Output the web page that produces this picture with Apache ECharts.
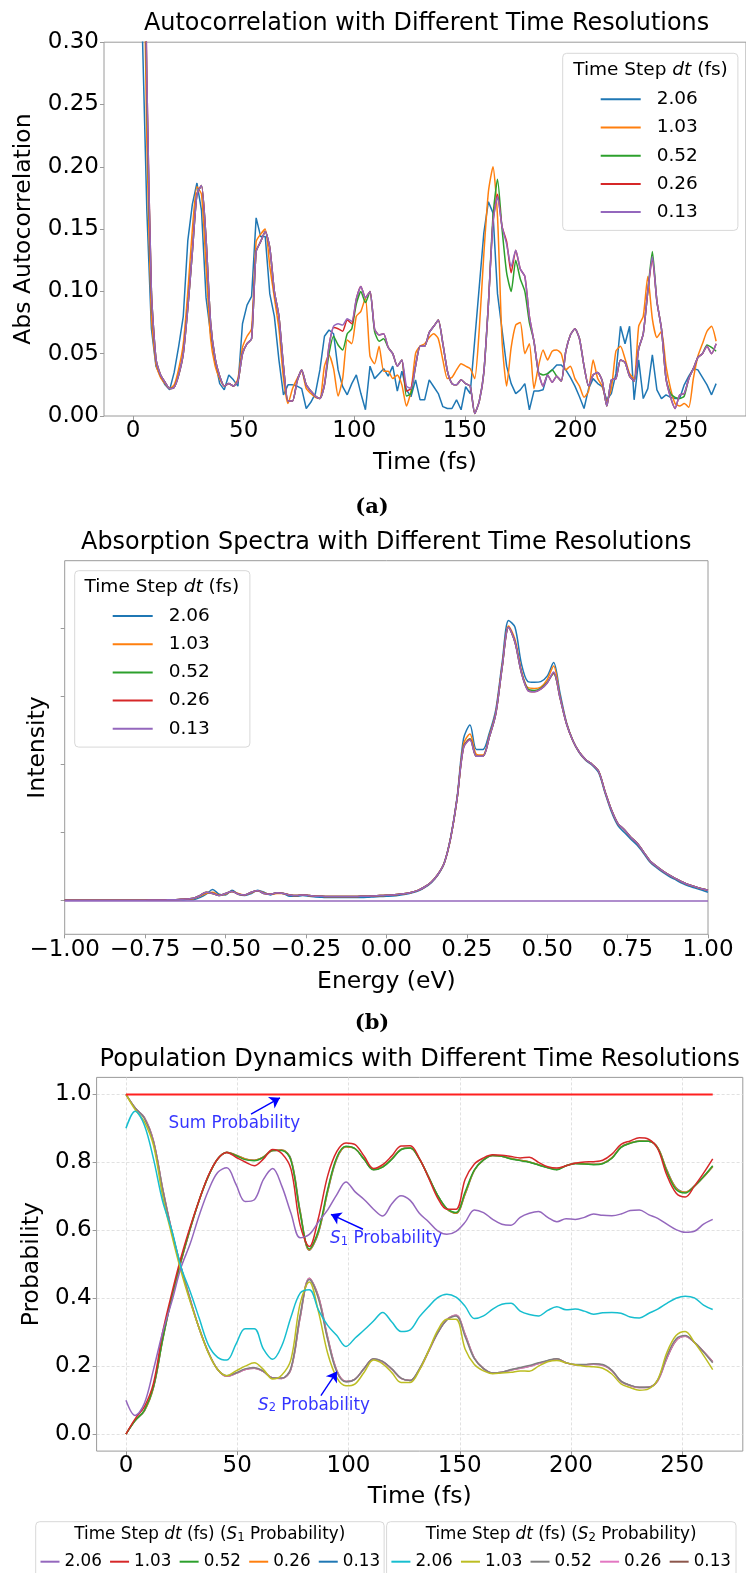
<!DOCTYPE html>
<html><head><meta charset="utf-8">
<script src="https://cdn.jsdelivr.net/npm/echarts@6.0.0/dist/echarts.min.js"></script>
<style>html,body{margin:0;padding:0;background:#fff}#c{width:746px;height:1573px}</style>
</head><body><div id="c"></div>
<script>
// ---------- Panel (a): autocorrelation, sampled every 2.06 fs ----------
const stepA = 2.06;
const blueA = [1.0,0.68,0.31,0.165,0.07,0.04,0.032,0.025,0.021,0.035,
0.056,0.08,0.141,0.17,0.187,0.165,0.095,0.066,0.044,0.026,
0.021,0.033,0.029,0.024,0.074,0.089,0.096,0.159,0.144,0.144,
0.098,0.08,0.045,0.017,0.025,0.025,0.024,0.022,0.006,0.011,
0.018,0.037,0.064,0.069,0.066,0.037,0.0235,0.017,0.026,0.033,
0.018,0.005,0.04,0.03,0.034,0.038,0.032,0.04,0.02,0.036,
0.021,0.0155,0.029,0.013,0.013,0.029,0.0235,0.018,0.0075,0.006,
0.006,0.013,0.005,0.0235,0.018,0.061,0.104,0.147,0.172,0.163,
0.098,0.069,0.04,0.026,0.018,0.021,0.026,0.005,0.02,0.02,
0.021,0.034,0.037,0.041,0.041,0.037,0.031,0.024,0.0155,0.006,
0.022,0.03,0.026,0.0235,0.013,0.018,0.034,0.072,0.058,0.072,
0.013,0.045,0.014,0.022,0.049,0.021,0.014,0.017,0.015,0.014,
0.014,0.025,0.032,0.038,0.037,0.031,0.025,0.017,0.026];
const orangeA = [1.0,0.8,0.47,0.22,0.08,0.042,0.031,0.026,0.022,0.025,
0.038,0.058,0.1,0.15,0.184,0.178,0.12,0.062,0.04,0.03,
0.024,0.026,0.024,0.03,0.055,0.064,0.07,0.14,0.146,0.15,
0.12,0.095,0.07,0.03,0.01,0.022,0.03,0.036,0.022,0.018,
0.015,0.014,0.04,0.049,0.038,0.016,0.03,0.061,0.058,0.08,
0.084,0.095,0.048,0.042,0.056,0.036,0.036,0.03,0.033,0.025,
0.008,0.02,0.05,0.056,0.058,0.063,0.066,0.062,0.045,0.03,
0.031,0.037,0.042,0.04,0.038,0.03,0.07,0.13,0.18,0.2,
0.16,0.06,0.024,0.055,0.073,0.075,0.05,0.058,0.022,0.04,
0.053,0.045,0.052,0.053,0.05,0.037,0.04,0.03,0.024,0.015,
0.02,0.045,0.03,0.024,0.012,0.022,0.052,0.056,0.046,0.034,
0.03,0.072,0.08,0.112,0.078,0.063,0.068,0.04,0.022,0.01,
0.008,0.01,0.007,0.03,0.048,0.058,0.068,0.072,0.06];
const greenA = [1.0,0.85,0.55,0.26,0.1,0.046,0.033,0.027,0.022,0.023,
0.033,0.05,0.087,0.132,0.178,0.185,0.142,0.075,0.046,0.032,
0.024,0.026,0.024,0.028,0.05,0.058,0.062,0.132,0.14,0.148,
0.135,0.1,0.08,0.04,0.012,0.012,0.028,0.037,0.025,0.02,
0.016,0.014,0.025,0.05,0.064,0.057,0.053,0.066,0.07,0.09,
0.1,0.091,0.1,0.068,0.06,0.062,0.055,0.05,0.04,0.045,
0.016,0.018,0.04,0.056,0.056,0.067,0.072,0.077,0.058,0.036,
0.026,0.025,0.029,0.026,0.024,0.002,0.012,0.035,0.09,0.16,
0.19,0.15,0.115,0.1,0.125,0.11,0.1,0.075,0.06,0.035,
0.033,0.034,0.037,0.032,0.028,0.052,0.065,0.07,0.062,0.04,
0.024,0.033,0.035,0.028,0.008,0.029,0.03,0.045,0.043,0.032,
0.028,0.054,0.066,0.1,0.132,0.092,0.07,0.03,0.018,0.015,
0.014,0.016,0.03,0.038,0.047,0.05,0.057,0.055,0.052];
const redA = [1.0,0.85,0.55,0.27,0.1,0.046,0.033,0.027,0.022,0.023,
0.033,0.05,0.087,0.132,0.178,0.185,0.142,0.075,0.046,0.032,
0.024,0.026,0.024,0.028,0.05,0.058,0.062,0.132,0.14,0.148,
0.135,0.1,0.08,0.04,0.012,0.012,0.028,0.037,0.025,0.02,
0.016,0.014,0.025,0.056,0.071,0.07,0.068,0.077,0.074,0.094,
0.104,0.095,0.1,0.07,0.065,0.066,0.055,0.05,0.04,0.045,
0.02,0.022,0.04,0.056,0.056,0.067,0.072,0.077,0.058,0.036,
0.026,0.025,0.029,0.026,0.024,0.002,0.012,0.035,0.09,0.155,
0.178,0.152,0.14,0.115,0.133,0.118,0.112,0.08,0.06,0.035,
0.024,0.033,0.027,0.032,0.028,0.052,0.065,0.07,0.062,0.04,
0.024,0.033,0.035,0.028,0.008,0.029,0.03,0.045,0.043,0.032,
0.028,0.054,0.066,0.1,0.126,0.092,0.07,0.03,0.015,0.006,
0.017,0.018,0.03,0.038,0.047,0.05,0.056,0.05,0.058];
const purpleA = [1.0,0.85,0.55,0.27,0.1,0.046,0.033,0.027,0.022,0.023,
0.033,0.05,0.087,0.132,0.178,0.185,0.142,0.075,0.046,0.032,
0.024,0.026,0.024,0.028,0.05,0.058,0.062,0.132,0.14,0.148,
0.135,0.1,0.08,0.04,0.012,0.012,0.028,0.037,0.025,0.02,
0.016,0.014,0.025,0.056,0.072,0.074,0.073,0.078,0.076,0.094,
0.104,0.095,0.1,0.07,0.065,0.066,0.055,0.05,0.04,0.045,
0.024,0.022,0.04,0.056,0.056,0.067,0.072,0.077,0.058,0.036,
0.026,0.025,0.029,0.026,0.024,0.002,0.012,0.035,0.09,0.155,
0.176,0.152,0.138,0.12,0.133,0.118,0.112,0.08,0.06,0.035,
0.024,0.033,0.027,0.032,0.028,0.052,0.065,0.07,0.062,0.04,
0.024,0.033,0.035,0.028,0.008,0.029,0.03,0.045,0.043,0.032,
0.028,0.054,0.066,0.1,0.128,0.092,0.07,0.03,0.015,0.006,
0.017,0.018,0.03,0.038,0.047,0.05,0.056,0.05,0.058];

// ---------- Panel (b): absorption spectra, energy step 0.02 eV from -1 ----------
const stepB = 0.02;
const blueB = [0,0,0,0,0,0,0,0,0,0,
0,0,0,0,0,0,0,0.003,0.005,0.008,
0.01,0.04,0.09,0.16,0.09,0.08,0.15,0.09,0.07,0.10,
0.15,0.12,0.08,0.11,0.10,0.06,0.06,0.07,0.06,0.05,
0.045,0.04,0.04,0.04,0.04,0.04,0.042,0.045,0.05,0.055,
0.06,0.065,0.075,0.09,0.11,0.14,0.19,0.26,0.37,0.55,
0.93,1.52,2.38,2.58,2.22,2.22,2.46,2.80,3.50,4.12,
4.02,3.48,3.22,3.21,3.22,3.30,3.50,3.05,2.62,2.35,
2.17,2.06,1.99,1.88,1.58,1.30,1.10,1.00,0.90,0.81,
0.69,0.56,0.48,0.41,0.35,0.30,0.25,0.21,0.18,0.15,
0.12];
const orangeB = [0,0,0,0,0,0,0,0,0,0,
0,0,0,0.004,0.005,0.005,0.008,0.01,0.014,0.02,
0.025,0.06,0.10,0.12,0.08,0.09,0.13,0.10,0.08,0.11,
0.14,0.11,0.09,0.10,0.10,0.08,0.07,0.08,0.07,0.06,
0.06,0.055,0.055,0.055,0.055,0.055,0.06,0.06,0.065,0.07,
0.075,0.08,0.09,0.10,0.12,0.15,0.20,0.27,0.38,0.55,
0.92,1.50,2.30,2.45,2.15,2.14,2.42,2.76,3.45,4.04,
3.84,3.38,3.13,3.12,3.14,3.25,3.45,3.00,2.61,2.35,
2.18,2.07,2.00,1.90,1.60,1.33,1.13,1.04,0.93,0.84,
0.71,0.58,0.50,0.43,0.37,0.32,0.27,0.23,0.20,0.17,
0.15];
const greenB = [0,0,0,0,0,0,0,0,0,0,
0,0,0,0.005,0.005,0.005,0.008,0.01,0.015,0.02,
0.03,0.07,0.12,0.10,0.07,0.10,0.13,0.09,0.08,0.12,
0.14,0.10,0.09,0.11,0.10,0.08,0.07,0.08,0.07,0.06,
0.06,0.055,0.055,0.055,0.055,0.055,0.06,0.06,0.065,0.07,
0.075,0.08,0.09,0.10,0.12,0.15,0.20,0.27,0.38,0.55,
0.92,1.50,2.26,2.38,2.12,2.12,2.40,2.74,3.43,4.02,
3.80,3.35,3.11,3.09,3.12,3.21,3.34,2.98,2.60,2.35,
2.18,2.07,2.00,1.90,1.60,1.33,1.13,1.04,0.93,0.84,
0.71,0.58,0.50,0.43,0.37,0.32,0.27,0.23,0.20,0.17,
0.15];
const redB = [0,0,0,0,0,0,0,0,0,0,
0,0,0,0.005,0.005,0.005,0.008,0.01,0.015,0.02,
0.03,0.07,0.12,0.10,0.07,0.10,0.13,0.09,0.08,0.12,
0.14,0.10,0.09,0.11,0.10,0.08,0.07,0.08,0.07,0.06,
0.06,0.055,0.055,0.055,0.055,0.055,0.06,0.06,0.065,0.07,
0.075,0.08,0.09,0.10,0.12,0.15,0.20,0.27,0.38,0.55,
0.92,1.50,2.25,2.37,2.12,2.12,2.40,2.74,3.43,4.02,
3.80,3.35,3.09,3.07,3.11,3.20,3.35,2.98,2.60,2.35,
2.18,2.07,2.00,1.90,1.60,1.33,1.13,1.04,0.93,0.84,
0.71,0.58,0.50,0.43,0.37,0.32,0.27,0.23,0.20,0.17,
0.15];
const purpleB = [0,0,0,0,0,0,0,0,0,0,
0,0,0,0.005,0.005,0.005,0.008,0.01,0.015,0.02,
0.03,0.07,0.12,0.10,0.07,0.10,0.13,0.09,0.08,0.12,
0.14,0.10,0.09,0.11,0.10,0.08,0.07,0.08,0.07,0.06,
0.06,0.055,0.055,0.055,0.055,0.055,0.06,0.06,0.065,0.07,
0.075,0.08,0.09,0.10,0.12,0.15,0.20,0.27,0.38,0.55,
0.92,1.50,2.25,2.36,2.12,2.12,2.40,2.74,3.43,4.02,
3.80,3.35,3.09,3.07,3.11,3.20,3.36,2.98,2.60,2.35,
2.18,2.07,2.00,1.90,1.60,1.33,1.13,1.04,0.93,0.84,
0.71,0.58,0.50,0.43,0.37,0.32,0.27,0.23,0.20,0.17,
0.15];
const intensityTicks = [0, 1, 2, 3, 4];

// ---------- Panel (c): population dynamics, sampled every 4.12 fs ----------
const stepC = 4.12;
const s1_206 = [0.10,0.055,0.09,0.19,0.30,0.39,0.49,0.56,0.645,0.718,
0.77,0.784,0.735,0.685,0.69,0.75,0.782,0.73,0.65,0.578,
0.588,0.625,0.66,0.705,0.742,0.713,0.69,0.662,0.642,0.678,
0.702,0.688,0.65,0.625,0.598,0.588,0.597,0.624,0.66,0.652,
0.632,0.618,0.615,0.638,0.65,0.655,0.638,0.625,0.634,0.632,
0.638,0.648,0.644,0.643,0.648,0.658,0.66,0.646,0.635,0.618,
0.602,0.594,0.597,0.618,0.632];
const s1_103 = [0.0,0.045,0.08,0.15,0.30,0.415,0.52,0.61,0.69,0.762,
0.81,0.829,0.815,0.801,0.79,0.81,0.838,0.826,0.78,0.615,
0.552,0.637,0.76,0.832,0.857,0.852,0.817,0.782,0.793,0.819,
0.848,0.849,0.812,0.755,0.695,0.662,0.662,0.75,0.795,0.813,
0.822,0.821,0.817,0.813,0.815,0.8,0.787,0.783,0.79,0.797,
0.801,0.802,0.806,0.824,0.853,0.863,0.872,0.868,0.84,0.762,
0.71,0.698,0.73,0.768,0.81];
const s1_052 = [0.0,0.04,0.07,0.14,0.28,0.405,0.51,0.605,0.69,0.76,
0.81,0.829,0.82,0.808,0.805,0.815,0.835,0.835,0.805,0.65,
0.545,0.6,0.72,0.815,0.847,0.84,0.808,0.778,0.786,0.809,
0.837,0.842,0.81,0.757,0.703,0.664,0.652,0.713,0.778,0.807,
0.82,0.818,0.81,0.805,0.8,0.792,0.784,0.778,0.79,0.796,
0.795,0.793,0.796,0.812,0.844,0.856,0.862,0.862,0.842,0.772,
0.72,0.71,0.73,0.758,0.79];
const s1_026 = [0.0,0.04,0.068,0.138,0.278,0.403,0.508,0.604,0.69,0.76,
0.81,0.83,0.821,0.81,0.806,0.816,0.835,0.836,0.808,0.655,
0.542,0.595,0.715,0.812,0.846,0.84,0.808,0.779,0.787,0.81,
0.838,0.842,0.81,0.757,0.702,0.663,0.65,0.708,0.776,0.807,
0.82,0.818,0.811,0.806,0.801,0.793,0.785,0.779,0.79,0.797,
0.796,0.794,0.797,0.813,0.845,0.857,0.863,0.862,0.843,0.776,
0.724,0.712,0.73,0.757,0.788];
const s1_013 = [0.0,0.04,0.068,0.137,0.277,0.402,0.508,0.603,0.689,0.76,
0.81,0.83,0.821,0.81,0.806,0.816,0.835,0.836,0.809,0.657,
0.541,0.593,0.713,0.811,0.846,0.84,0.808,0.779,0.787,0.81,
0.838,0.842,0.81,0.757,0.702,0.663,0.65,0.707,0.776,0.807,
0.82,0.818,0.811,0.806,0.801,0.793,0.785,0.779,0.79,0.797,
0.796,0.794,0.797,0.813,0.845,0.857,0.863,0.862,0.843,0.777,
0.725,0.712,0.73,0.757,0.788];
const s2_206 = [0.90,0.95,0.91,0.81,0.685,0.60,0.492,0.42,0.34,0.262,
0.226,0.218,0.265,0.31,0.31,0.25,0.22,0.26,0.345,0.415,
0.425,0.365,0.32,0.29,0.258,0.283,0.307,0.333,0.358,0.33,
0.302,0.307,0.345,0.375,0.402,0.412,0.403,0.376,0.34,0.348,
0.368,0.382,0.385,0.362,0.352,0.348,0.364,0.375,0.366,0.368,
0.362,0.353,0.357,0.358,0.356,0.345,0.342,0.355,0.368,0.385,
0.40,0.406,0.401,0.38,0.367];
const s2_103 = [1.0,0.955,0.92,0.85,0.70,0.585,0.48,0.39,0.31,0.238,
0.19,0.172,0.186,0.2,0.21,0.19,0.162,0.174,0.22,0.385,
0.448,0.36,0.238,0.166,0.142,0.148,0.183,0.218,0.207,0.181,
0.152,0.152,0.188,0.245,0.305,0.338,0.338,0.25,0.205,0.186,
0.178,0.18,0.182,0.186,0.185,0.2,0.213,0.217,0.21,0.204,
0.2,0.198,0.194,0.177,0.148,0.137,0.129,0.133,0.16,0.24,
0.29,0.302,0.27,0.232,0.19];
const s2_052 = [1.0,0.96,0.93,0.86,0.72,0.595,0.49,0.395,0.31,0.24,
0.19,0.172,0.18,0.192,0.195,0.185,0.165,0.165,0.195,0.35,
0.455,0.398,0.278,0.183,0.154,0.162,0.194,0.222,0.214,0.192,
0.165,0.158,0.192,0.245,0.298,0.336,0.348,0.287,0.222,0.193,
0.18,0.182,0.19,0.196,0.202,0.21,0.217,0.222,0.21,0.205,
0.205,0.207,0.205,0.188,0.156,0.144,0.138,0.138,0.16,0.23,
0.28,0.29,0.27,0.242,0.21];
const s2_026 = [1.0,0.96,0.932,0.862,0.722,0.597,0.492,0.396,0.31,0.24,
0.19,0.17,0.179,0.19,0.194,0.184,0.165,0.164,0.192,0.345,
0.458,0.403,0.283,0.186,0.155,0.162,0.194,0.221,0.213,0.191,
0.164,0.158,0.19,0.243,0.298,0.337,0.35,0.292,0.224,0.193,
0.18,0.182,0.189,0.194,0.2,0.208,0.215,0.221,0.21,0.204,
0.204,0.206,0.203,0.187,0.155,0.143,0.137,0.138,0.157,0.224,
0.276,0.288,0.27,0.243,0.212];
const s2_013 = [1.0,0.96,0.932,0.863,0.723,0.598,0.492,0.397,0.31,0.24,
0.19,0.17,0.179,0.19,0.194,0.184,0.165,0.164,0.191,0.343,
0.459,0.405,0.285,0.187,0.155,0.162,0.194,0.221,0.213,0.191,
0.164,0.158,0.19,0.243,0.298,0.337,0.35,0.293,0.224,0.193,
0.18,0.182,0.189,0.194,0.2,0.208,0.215,0.221,0.21,0.204,
0.204,0.206,0.203,0.187,0.155,0.143,0.137,0.138,0.157,0.223,
0.275,0.288,0.27,0.243,0.213];
const sumT = [0, 263.68];
const sumP = [1.0, 1.0];
const noteText = ['Sum Probability', '{i|S}{s|1} Probability', '{i|S}{s|2} Probability'];
const notePos = [[18.9, 0.915], [91.5, 0.574], [59.1, 0.083]];
const arrowFrom = [[56.2, 0.942], [106.5, 0.603], [87.6, 0.113]];
const arrowTo = [[69.2, 0.99], [92.1, 0.647], [94.8, 0.184]];

const dtLabels = ['2.06', '1.03', '0.52', '0.26', '0.13'];
const timeTicks = [0, 50, 100, 150, 200, 250];
const probTicks = [0, 0.2, 0.4, 0.6, 0.8, 1.0];

// ---------- build ----------
const FONT = 'DejaVu Sans';
const C = {blue:'#1f77b4', orange:'#ff7f0e', green:'#2ca02c', red:'#d62728', purple:'#9467bd',
  brown:'#8c564b', pink:'#e377c2', gray:'#7f7f7f', olive:'#bcbd22', cyan:'#17becf'};
const SPINE = '#9a9a9a';
const timeA = blueA.map((_, i) => +(i * stepA).toFixed(2));
const energyB = purpleB.map((_, i) => +(-1 + i * stepB).toFixed(2));
const timeC = s1_206.map((_, i) => +(i * stepC).toFixed(2));
const pairs = (xs, ys) => ys.map((v, i) => [xs[i], v]);

function line(name, ax, xs, ys, color, smooth, width) {
  return {type:'line', name, xAxisIndex:ax, yAxisIndex:ax, data:pairs(xs, ys),
    symbol:'none', showSymbol:false, smooth:smooth, clip:true,
    lineStyle:{color, width:width || 1.5}, itemStyle:{color}, emphasis:{disabled:true}};
}
const series = [];
series.push(line('A|2.06', 0, timeA, blueA, C.blue, false));
series.push(line('A|1.03', 0, timeA, orangeA, C.orange, 0.2));
series.push(line('A|0.52', 0, timeA, greenA, C.green, 0.2));
series.push(line('A|0.26', 0, timeA, redA, C.red, 0.2));
series.push(line('A|0.13', 0, timeA, purpleA, C.purple, 0.2));

series.push(line('B|2.06', 1, energyB, blueB, C.blue, 0.3));
series.push(line('B|1.03', 1, energyB, orangeB, C.orange, 0.3));
series.push(line('B|0.52', 1, energyB, greenB, C.green, 0.3));
series.push(line('B|0.26', 1, energyB, redB, C.red, 0.3));
const pb = line('B|0.13', 1, energyB, purpleB, C.purple, 0.3);
pb.markLine = {silent:true, symbol:['none','none'], label:{show:false},
  lineStyle:{color:C.purple, width:1.5, type:'solid'}, data:[{yAxis:0}]};
series.push(pb);

series.push(line('S1|0.13', 2, timeC, s1_013, C.blue, 0.35));
series.push(line('S2|0.13', 2, timeC, s2_013, C.brown, 0.35));
series.push(line('S1|0.26', 2, timeC, s1_026, C.orange, 0.35));
series.push(line('S2|0.26', 2, timeC, s2_026, C.pink, 0.35));
series.push(line('S1|0.52', 2, timeC, s1_052, C.green, 0.35));
series.push(line('S2|0.52', 2, timeC, s2_052, C.gray, 0.35));
series.push(line('S1|1.03', 2, timeC, s1_103, C.red, 0.35));
series.push(line('S2|1.03', 2, timeC, s2_103, C.olive, 0.35));
series.push(line('S1|2.06', 2, timeC, s1_206, C.purple, 0.35));
series.push(line('S2|2.06', 2, timeC, s2_206, C.cyan, 0.35));
series.push(line('Sum', 2, sumT, sumP, '#ff2020', false, 2));
series.push({type:'scatter', name:'Notes', xAxisIndex:2, yAxisIndex:2, data:notePos,
  symbolSize:1, itemStyle:{color:'rgba(0,0,0,0)'}, silent:true,
  label:{show:true, position:'right', distance:0, color:'#0000ff', fontSize:16.8, fontFamily:FONT,
    formatter:p => noteText[p.dataIndex],
    rich:{i:{fontStyle:'italic', fontSize:16.8, color:'#0000ff', fontFamily:FONT},
          s:{fontSize:11.5, color:'#0000ff', fontFamily:FONT, verticalAlign:'bottom', lineHeight:12}}},
  markLine:{silent:true, symbol:['none','arrow'], symbolSize:10, label:{show:false},
    lineStyle:{color:'#0000ff', width:1.4, type:'solid'},
    data: arrowFrom.map((f, i) => [{coord:f}, {coord:arrowTo[i]}])}});

const tickStyle = {show:true, length:4, lineStyle:{color:SPINE, width:1}};
const lblStyle = {color:'#000', fontSize:23, fontFamily:FONT};
const nameStyle = {color:'#000', fontSize:23.5, fontFamily:FONT};
const noLine = {show:false, onZero:false};

const xAxis = [
  {gridIndex:0, type:'value', min:-13.2, max:277.2, axisLine:noLine, splitLine:{show:false},
   axisTick:Object.assign({customValues:timeTicks}, tickStyle),
   axisLabel:Object.assign({customValues:timeTicks, margin:4}, lblStyle),
   name:'Time (fs)', nameLocation:'middle', nameGap:35, nameTextStyle:nameStyle},
  {gridIndex:1, type:'value', min:-1, max:1, interval:0.25, axisLine:noLine, splitLine:{show:false},
   axisTick:tickStyle,
   axisLabel:Object.assign({margin:4, formatter:v => (v < 0 ? '\u2212' : '') + Math.abs(v).toFixed(2)}, lblStyle),
   name:'Energy (eV)', nameLocation:'middle', nameGap:36, nameTextStyle:nameStyle},
  {gridIndex:2, type:'value', min:-13.2, max:277.2, axisLine:noLine,
   splitLine:{show:true, lineStyle:{color:'#d9d9d9', width:0.8, type:[3,2]}},
   axisTick:Object.assign({customValues:timeTicks}, tickStyle),
   axisLabel:Object.assign({customValues:timeTicks, margin:3}, lblStyle),
   name:'Time (fs)', nameLocation:'middle', nameGap:34, nameTextStyle:nameStyle}
];
const yAxis = [
  {gridIndex:0, type:'value', min:0, max:0.3, interval:0.05, axisLine:noLine, splitLine:{show:false},
   axisTick:tickStyle, axisLabel:Object.assign({margin:5, formatter:v => v.toFixed(2)}, lblStyle),
   name:'Abs Autocorrelation', nameLocation:'middle', nameGap:68, nameTextStyle:nameStyle},
  {gridIndex:1, type:'value', min:-0.5, max:5.0, axisLine:noLine, splitLine:{show:false},
   axisTick:Object.assign({customValues:intensityTicks}, tickStyle), axisLabel:{show:false},
   name:'Intensity', nameLocation:'middle', nameGap:15, nameTextStyle:nameStyle},
  {gridIndex:2, type:'value', min:-0.05, max:1.05, axisLine:noLine,
   splitLine:{show:true, lineStyle:{color:'#d9d9d9', width:0.8, type:[3,2]}},
   axisTick:Object.assign({customValues:probTicks}, tickStyle),
   axisLabel:Object.assign({customValues:probTicks, margin:5, formatter:v => v.toFixed(1)}, lblStyle),
   name:'Probability', nameLocation:'middle', nameGap:49, nameTextStyle:nameStyle}
];
const grid = [
  {left:104, top:42.2, width:645.2, height:373.8, show:true, borderColor:SPINE, borderWidth:1},
  {left:64.7, top:560.7, width:643.3, height:373.6, show:true, borderColor:SPINE, borderWidth:1},
  {left:96.6, top:1077.4, width:646.2, height:373.7, show:true, borderColor:SPINE, borderWidth:1}
];
const fmt = n => n.split('|')[1];
const boxLegend = (prefix, left, top, pad) => ({
  data: dtLabels.map(d => prefix + '|' + d), orient:'vertical', left, top, padding:pad,
  itemWidth:40, itemHeight:20, itemGap:8.2, icon:'path://M0,0H40V2H0Z', selectedMode:false,
  formatter:fmt, textStyle:{fontSize:18.5, fontFamily:FONT, color:'#000', lineHeight:20, padding:[0,0,0,11]},
  backgroundColor:'rgba(255,255,255,0.85)', borderColor:'#d8d8d8', borderWidth:1, borderRadius:4});
const rowLegend = (prefix, left, pad) => ({
  data: dtLabels.map(d => prefix + '|' + d), orient:'horizontal', left, top:1521.7, padding:pad,
  itemWidth:19, itemHeight:18, itemGap:8.2, icon:'path://M0,0H19V2H0Z', selectedMode:false,
  formatter:fmt, textStyle:{fontSize:16.8, fontFamily:FONT, color:'#000', lineHeight:18},
  backgroundColor:'rgba(255,255,255,0.85)', borderColor:'#d8d8d8', borderWidth:1, borderRadius:4});
const legend = [
  boxLegend('A', 562.7, 53.3, [36, 40, 8.3, 38]),
  boxLegend('B', 74.7, 570.7, [35.3, 40, 8.3, 38]),
  rowLegend('S1', 35.7, [31, 4, 12, 4.8]),
  rowLegend('S2', 386.6, [31, 5, 12, 4.8])
];
function txt(x, y, text, size, extra) {
  return {type:'text', x, y, z:100, silent:true, style:Object.assign({text, fill:'#000', fontSize:size, fontFamily:FONT,
    align:'center', verticalAlign:'middle', textAlign:'center', textVerticalAlign:'middle'}, extra || {})};
}
const richLeg = size => ({rich:{
  i:{fontStyle:'italic', fontSize:size, fontFamily:FONT, fill:'#000'},
  s:{fontSize:size*0.7, fontFamily:FONT, fill:'#000', verticalAlign:'bottom', lineHeight:12}}});
const graphic = [
  txt(426.6, 24, 'Autocorrelation with Different Time Resolutions', 23.9),
  txt(372, 508, '(a)', 21, {fontFamily:'DejaVu Serif', fontWeight:'bold'}),
  txt(386.3, 543, 'Absorption Spectra with Different Time Resolutions', 23.9),
  txt(372, 1024, '(b)', 21, {fontFamily:'DejaVu Serif', fontWeight:'bold'}),
  txt(419.7, 1060, 'Population Dynamics with Different Time Resolutions', 24.2),
  txt(650.5, 70, 'Time Step {i|dt} (fs)', 18.5, richLeg(18.5)),
  txt(161.8, 587, 'Time Step {i|dt} (fs)', 18.5, richLeg(18.5)),
  txt(209.8, 1535, 'Time Step {i|dt} (fs) ({i|S}{s|1} Probability)', 16.8, richLeg(16.8)),
  txt(561.1, 1535, 'Time Step {i|dt} (fs) ({i|S}{s|2} Probability)', 16.8, richLeg(16.8))
];
const chart = echarts.init(document.getElementById('c'), null, {renderer:'canvas'});
chart.setOption({animation:false, backgroundColor:'#fff', grid, xAxis, yAxis, legend, graphic, series});
</script></body></html>
